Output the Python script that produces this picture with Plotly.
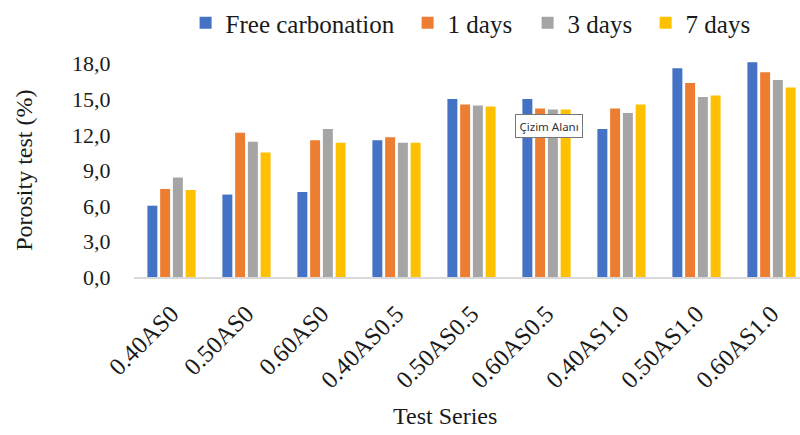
import plotly.graph_objects as go

categories = ["0.40AS0", "0.50AS0", "0.60AS0", "0.40AS0.5", "0.50AS0.5",
              "0.60AS0.5", "0.40AS1.0", "0.50AS1.0", "0.60AS1.0"]
free_carbonation = [6.02, 6.96, 7.18, 11.55, 15.03, 15.03, 12.49, 17.62, 18.12]
days_1 = [7.43, 12.18, 11.55, 11.80, 14.56, 14.23, 14.23, 16.38, 17.29]
days_3 = [8.40, 11.41, 12.49, 11.33, 14.48, 14.14, 13.84, 15.19, 16.63]
days_7 = [7.35, 10.52, 11.33, 11.33, 14.39, 14.14, 14.56, 15.33, 15.99]

series = [
    ("Free carbonation", free_carbonation, "#4472C4", 177),
    ("1 days", days_1, "#ED7D31", 75),
    ("3 days", days_3, "#A5A5A5", 73),
    ("7 days", days_7, "#FFC000", 73),
]

FONT = "Liberation Serif"
TXT = "#1a1a1a"

fig = go.Figure()
for name, vals, color, lw in series:
    fig.add_trace(go.Bar(
        name=name, x=list(range(len(categories))), y=vals,
        marker=dict(color=color, line=dict(width=0)),
        legendwidth=lw,
    ))

fig.update_layout(
    width=800, height=435,
    margin=dict(l=134, r=0, t=42, b=158),
    paper_bgcolor="white", plot_bgcolor="white",
    separators=",.",
    barmode="group", bargap=0.32, bargroupgap=0.22,
    font=dict(family=FONT, color=TXT),
    showlegend=True,
    legend=dict(
        orientation="h", xref="container", yref="container",
        x=0.232, xanchor="left", y=1.0, yanchor="top",
        font=dict(family=FONT, size=25, color=TXT),
        bgcolor="rgba(0,0,0,0)", traceorder="normal",
    ),
    xaxis=dict(
        range=[-0.5, 8.38],
        tickmode="array", tickvals=list(range(len(categories))), ticktext=categories,
        tickangle=-45, tickfont=dict(family=FONT, size=24.5, color=TXT),
        showline=True, linecolor="#D9D9D9", linewidth=1.5,
        ticks="outside", ticklen=11, tickcolor="rgba(0,0,0,0)",
        showgrid=False, zeroline=False,
    ),
    yaxis=dict(
        range=[0, 19.5], dtick=3, tick0=0, tickformat=".1f",
        tickfont=dict(family=FONT, size=22, color=TXT),
        ticks="outside", ticklen=18, tickcolor="rgba(0,0,0,0)",
        showgrid=False, zeroline=False, showline=False,
    ),
    annotations=[
        dict(text="Porosity test (%)", textangle=-90, xref="paper", yref="paper",
             x=-0.165, y=0.46, xanchor="center", yanchor="middle", showarrow=False,
             font=dict(family=FONT, size=24, color=TXT)),
        dict(text="Test Series", xref="paper", yref="paper",
             x=0.467, y=-0.6, xanchor="center", yanchor="middle", showarrow=False,
             font=dict(family=FONT, size=24, color=TXT)),
        dict(text="Çizim Alanı", xref="paper", yref="paper",
             x=(549 - 134) / 666, y=(277 - 123) / 235, xanchor="center", yanchor="middle",
             showarrow=False, bgcolor="white", bordercolor="#767676", borderwidth=1,
             borderpad=3.5, font=dict(family="Noto Sans", size=11.5, color="#333333")),
    ],
)

fig.write_html("out.html")
